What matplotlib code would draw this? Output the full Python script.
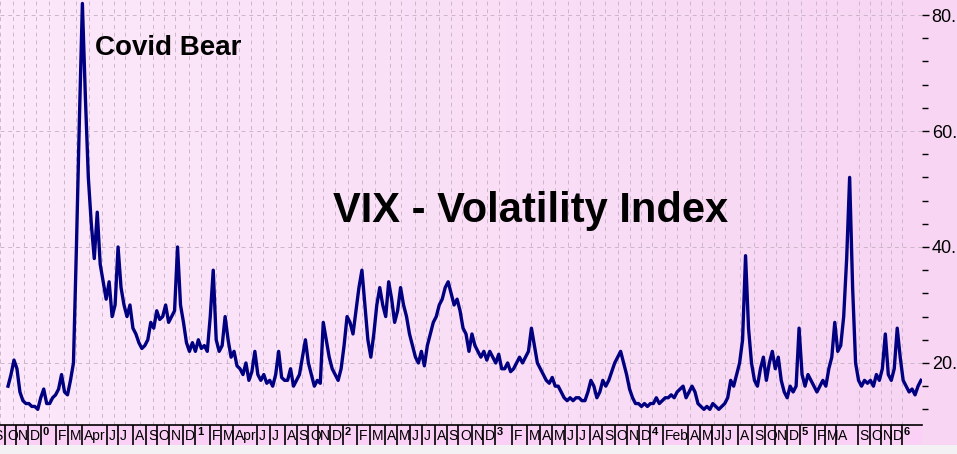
import numpy as np
import matplotlib.pyplot as plt
from matplotlib.colors import LinearSegmentedColormap
from matplotlib.ticker import MultipleLocator

plt.rcParams['font.family'] = ['Liberation Sans', 'DejaVu Sans']

# VIX close, one bar per week
vix = [
    16, 18, 20.5, 19, 15, 13.5, 13, 13, 12.5, 12.5,
    12, 14, 15.5, 13, 13, 14, 14.5, 15.5, 18, 15,
    14.5, 17, 20, 40, 62, 82, 66, 52, 44, 38,
    46, 37, 34, 31, 34, 28, 30, 40, 33, 30,
    28, 30, 26, 25, 23.5, 22.5, 23, 24, 27, 26,
    29, 27.5, 28, 30, 27, 28, 29, 40, 30, 27,
    23.5, 22, 23.5, 22, 24, 22.5, 23, 22, 28, 36,
    24, 22, 23, 28, 24, 21, 22, 19.5, 19, 18,
    20, 17, 18.5, 22, 18, 17, 18, 16.5, 17, 16,
    18, 22, 17.5, 17, 17, 19, 16, 17, 18, 21,
    24, 20, 18, 16, 17, 16.5, 27, 24, 21, 19,
    18, 17, 19, 23, 28, 27, 25, 29, 33, 36,
    30, 24, 21, 25, 30, 33, 30, 28, 34, 31,
    27, 29, 33, 30, 28, 25, 23, 21, 20, 22,
    19.5, 23, 25, 27, 28, 30, 31, 33, 34, 32,
    30, 31, 29, 26, 25, 22, 25, 23, 22, 21,
    22, 20.5, 22, 21, 20, 21.5, 19, 19, 20, 18.5,
    19, 20, 21, 20, 21, 22, 26, 23, 20, 19,
    18, 17, 16.5, 17.5, 16, 16, 15, 14, 13.5, 14,
    13.5, 14, 14, 13.5, 13.5, 15, 17, 16, 14, 15,
    17, 16, 17, 18.5, 20, 21, 22, 20, 18, 15.5,
    14, 13, 13, 12.5, 13, 12.5, 13, 13, 14, 13,
    13.5, 14, 14, 14.5, 14, 15, 15.5, 16, 14, 15,
    16, 15, 13, 12.5, 12, 12.5, 12, 13, 12.5, 12,
    12.5, 13, 14, 17, 16, 18, 20, 24, 38.5, 26,
    20, 17, 16, 19, 21, 17, 20, 22, 19, 21,
    17, 15, 14, 16, 15, 16, 26, 18, 16, 18,
    17, 16, 15, 16, 17, 16, 19, 21, 27, 22,
    23, 28, 38, 52, 33, 20, 17, 16, 17, 16.5,
    17, 16, 18, 17, 19, 25, 18, 17, 19, 26,
    21, 17, 16, 15, 15.5, 14.5, 16, 17,
]

# month starts in bar units, '' = month without a label
month_starts = [
    -2.7, 1.7, 5.3, 9.3, 13.7, 18.7, 22.7, 27.3, 31.7, 35.7, 39.3, 44.3,
    48.7, 52.3, 56.3, 61.0, 65.0, 70.0, 73.7, 77.7, 81.7, 85.7, 90.0, 95.0,
    99.0, 102.7, 106.0, 110.0, 114.3, 119.0, 123.3, 128.3, 132.3, 136.7, 140.7, 145.0,
    149.0, 152.7, 157.3, 161.0, 165.0, 170.7, 175.7, 180.0, 184.0, 188.3, 192.3, 196.7,
    200.7, 205.0, 209.0, 213.0, 216.7, 221.0, 225.0, 229.3, 233.3, 237.3, 241.0, 246.0,
    250.7, 255.0, 258.3, 262.3, 266.7, 271.7, 275.0, 278.7, 286.0, 290.0, 293.7, 297.0,
    300.7,
]
month_labels = [
    'S', 'O', 'N', 'D', '0', 'F', 'M', 'Apr', '', 'J', 'J', 'A',
    'S', 'O', 'N', 'D', '1', 'F', 'M', 'Apr', '', 'J', 'J', 'A',
    'S', 'O', 'N', 'D', '2', 'F', 'M', 'A', 'M', 'J', 'J', 'A',
    'S', 'O', 'N', 'D', '3', 'F', 'M', 'A', 'M', 'J', 'J', 'A',
    'S', 'O', 'N', 'D', '4', 'Feb', '', 'A', 'M', 'J', 'J', 'A',
    'S', 'O', 'N', 'D', '5', 'F', 'M', 'A', 'S', 'O', 'N', 'D',
    '6',
]
ytick_vals = [20, 40, 60, 80]
ytick_text = ['20.', '40.', '60.', '80.']

W, H = 957, 454
fig = plt.figure(figsize=(W / 100, H / 100), dpi=100)

# pink gradient background
bg = fig.add_axes([0, 0, 1, 1], zorder=0)
pink = LinearSegmentedColormap.from_list('pink', ['#fce8fa', '#f7d5f3'])
bg.imshow(np.linspace(0, 1, 256).reshape(1, -1), aspect='auto', cmap=pink,
          extent=[0, 1, 0, 1])
bg.axis('off')

foot = fig.add_axes([0, 0, 1, 9 / H], zorder=1)
foot.set_facecolor('#f3f1f3')
foot.set_xticks([])
foot.set_yticks([])
for s in foot.spines.values():
    s.set_visible(False)

x = np.arange(len(vix))
xmax = 922 / 3

ax = fig.add_axes([0, 29 / H, 922 / W, 425 / H], zorder=2)
ax.patch.set_alpha(0)
ax.plot(x, vix, color='#000080', lw=2.4, solid_joinstyle='round')
ax.set_xlim(0, xmax)
ax.set_ylim(9.3, 82.6)

ax.set_xticks(month_starts)
ax.tick_params(axis='x', length=0, labelbottom=False)
ax.yaxis.tick_right()
ax.set_yticks(ytick_vals)
ax.set_yticklabels(ytick_text)
ax.yaxis.set_minor_locator(MultipleLocator(4))
ax.tick_params(axis='y', which='major', length=5, width=1, labelsize=13, pad=2)
ax.tick_params(axis='y', which='minor', length=4, width=1)
ax.grid(True, which='major', color='#cdb5c9', linestyle=(0, (4, 4)), lw=0.7)
for s in ax.spines.values():
    s.set_visible(False)

ax.text(95 / 922, (425 - 55) / 425, 'Covid Bear', transform=ax.transAxes,
        fontsize=20, fontweight='bold', va='baseline')
ax.text(333 / 922, (425 - 222) / 425, 'VIX - Volatility Index', transform=ax.transAxes,
        fontsize=30, fontweight='bold', va='baseline')

# month strip
strip = fig.add_axes([0, 9 / H, 922 / W, 20 / H], zorder=2)
strip.set_facecolor('#fbd0f6')
strip.set_xlim(0, xmax)
strip.set_ylim(0, 1)
strip.set_xticks([])
strip.set_yticks([])
for k in ['left', 'right', 'bottom']:
    strip.spines[k].set_visible(False)
strip.spines['top'].set_linewidth(1.2)
for pos, lab in zip(month_starts, month_labels):
    if not lab:
        continue
    strip.vlines(pos, 0, 1, color='black', lw=1.2)
    if lab.isdigit():
        strip.text(pos + 0.6, 0.92, lab, fontsize=8, fontweight='bold', va='top')
    else:
        strip.text(pos + 0.6, 0.45, lab, fontsize=10, va='center')

fig.savefig('out.png', dpi=100)
